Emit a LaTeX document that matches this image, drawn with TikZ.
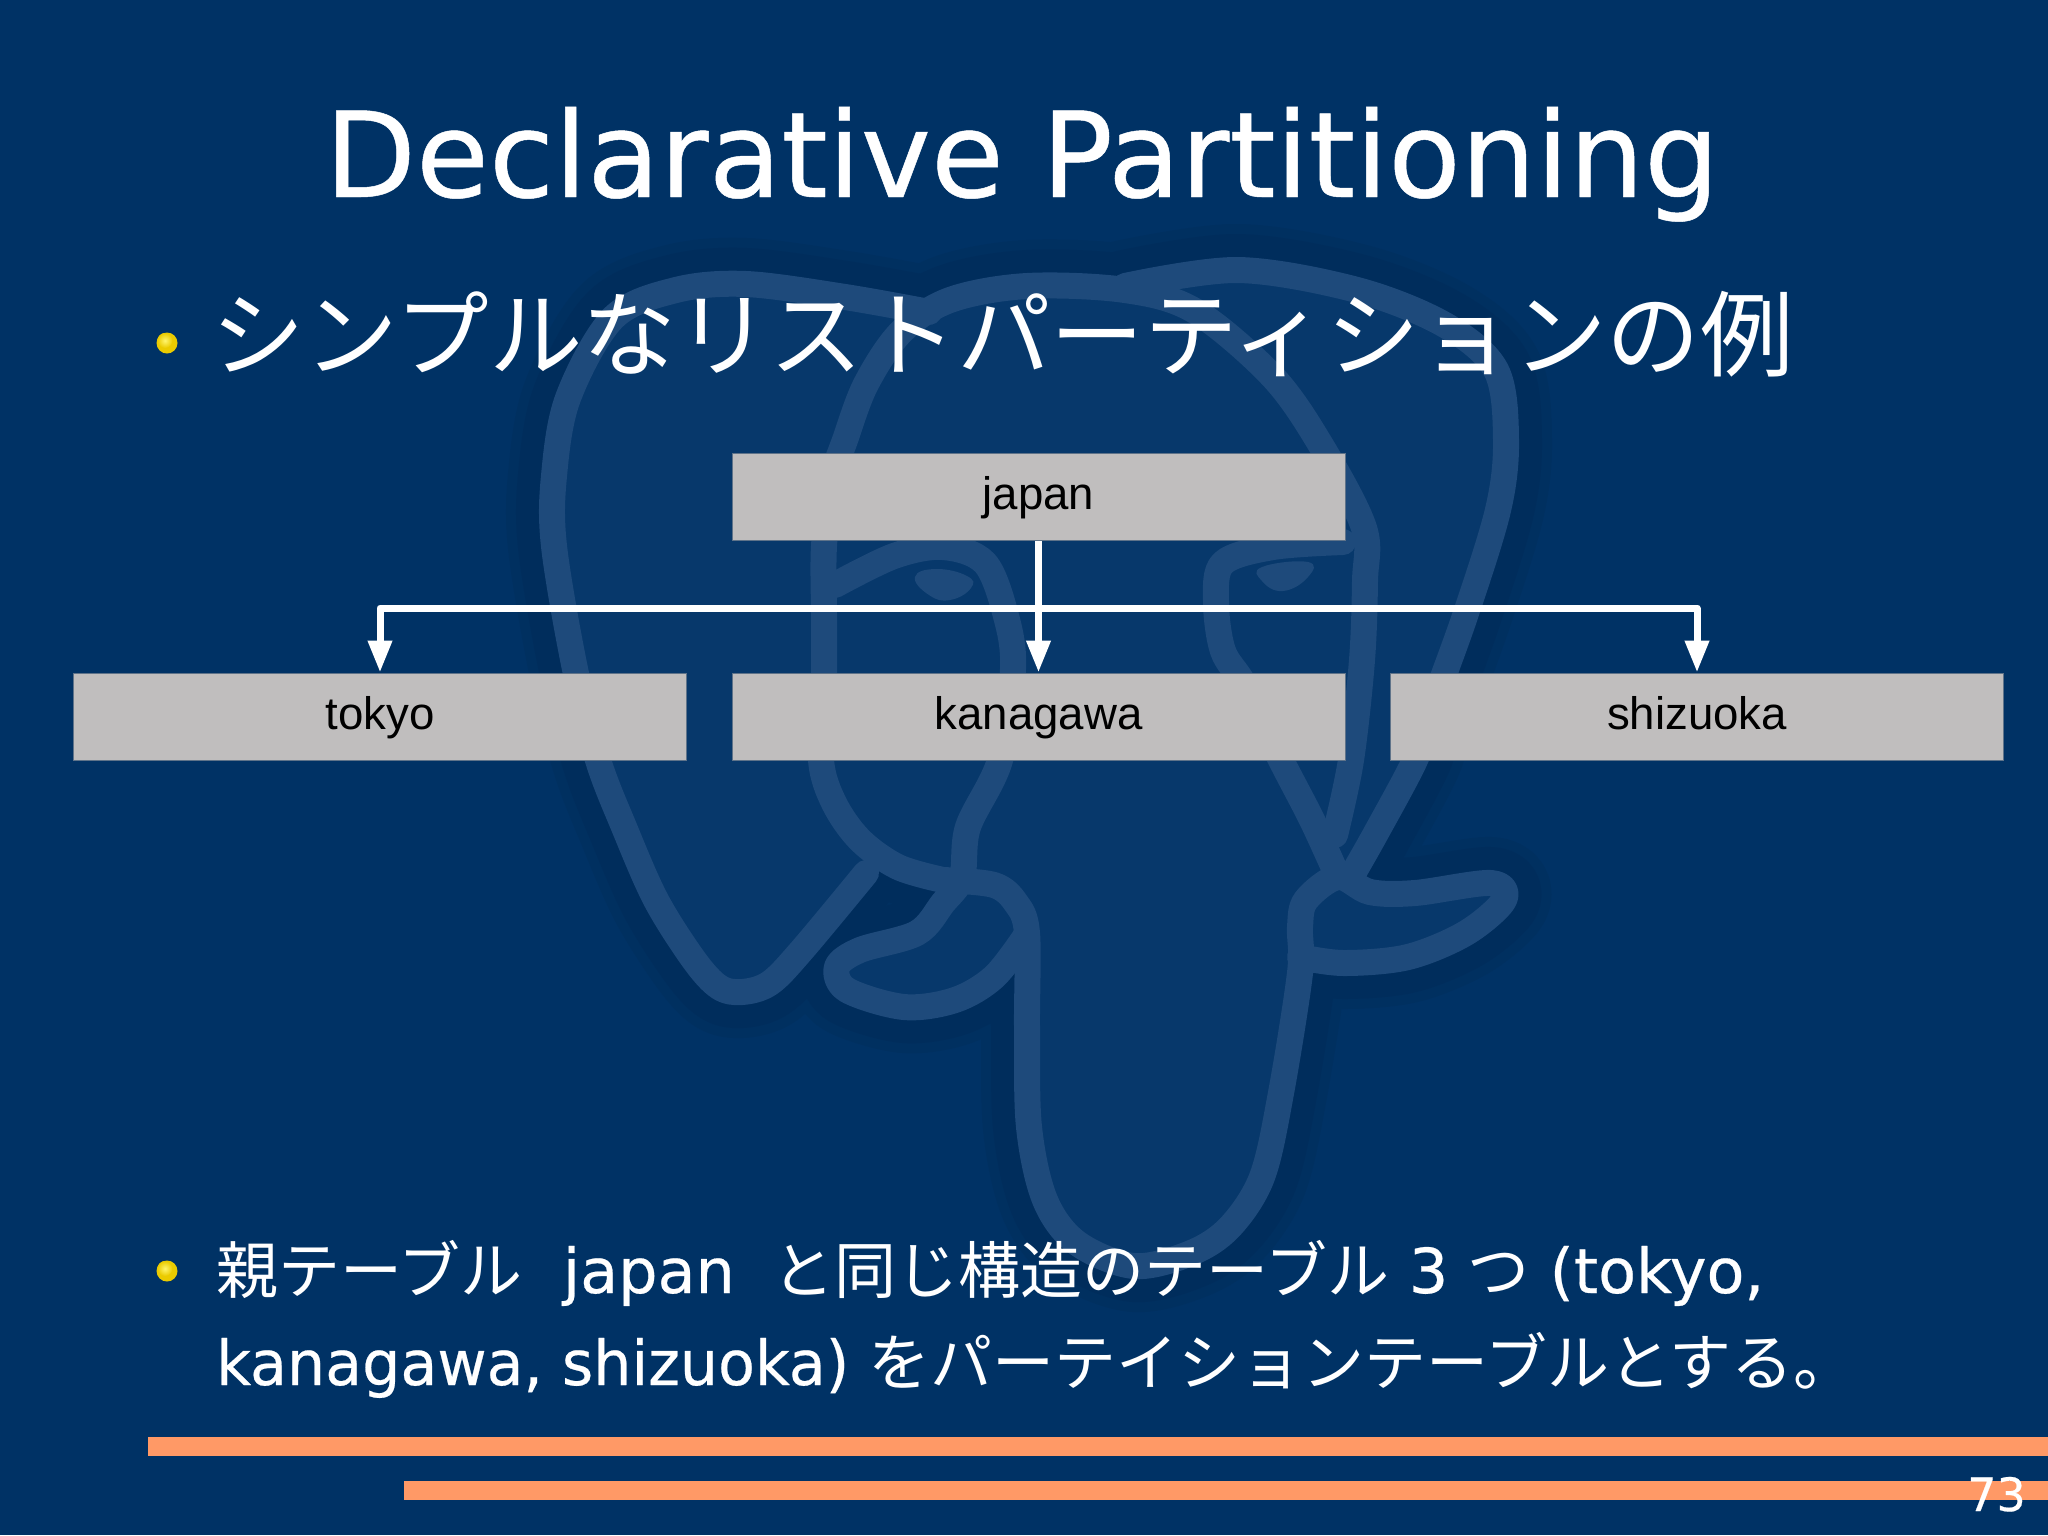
\documentclass[tikz,border=0pt]{standalone}
\usepackage{fontspec}
\setmainfont{DejaVu Sans}[FakeBold=0.4]
\newfontfamily\narrowlatin{DejaVu Sans}[FakeStretch=0.972,FakeBold=0.4]
\newfontfamily\cjk{Noto Sans CJK JP}
\newfontfamily\arialf{Liberation Sans}
\usetikzlibrary{arrows.meta}
\definecolor{bgblue}{HTML}{003265}
\definecolor{halo}{HTML}{002D5C}
\definecolor{haloedge}{HTML}{003060}
\definecolor{innerblue}{HTML}{07386B}
\definecolor{wmline}{HTML}{1E4A7B}
\definecolor{boxgray}{HTML}{C0BEBE}
\definecolor{boxedge}{HTML}{5F7389}
\definecolor{barorange}{HTML}{FF9966}
\definecolor{ballbase}{HTML}{EBCB00}
\definecolor{ballhigh}{HTML}{FFF56E}
\tikzset{
  boxnode/.style={draw=boxedge,line width=1pt,fill=boxgray,minimum width=613pt,minimum height=87pt,inner sep=0pt,text=black,text height=31pt,text depth=6pt,font=\arialf\fontsize{45.6}{45.6}\selectfont},
  link/.style={draw=white,line width=7pt,line join=round},
  tip/.style={-{Triangle[length=32pt,width=23pt,fill=white]}},
  bodytext/.style={anchor=base west,inner sep=0pt,text=white},
  bar/.style={fill=barorange,draw=none},
  outl/.style={line cap=round,line join=round},
}
\def\elephant#1{
  \draw[#1] plot[smooth,tension=.55] coordinates {(929,312)(845,297)(746,284)(676,290)(613,318)(568,398)(554,476)(554,546)(575,669)(598,760)(624,827)(656,900)(694,960)(719,987)(742,992)(770,983)(802,950)(866,873)};
  \draw[#1] plot[smooth,tension=.55] coordinates {(943,880)(898,867)(860,840)(834,803)(821,760)(824,686)(824,616)(824,546)(832,480)(845,440)(866,384)(901,332)(950,300)(1027,286)(1125,290)(1195,311)(1273,377)(1322,447)(1364,528)(1365,581)(1362,660)(1351,760)(1335,835)};
  \draw[#1] plot[smooth,tension=.55] coordinates {(1125,286)(1238,270)(1357,290)(1445,325)(1496,370)(1506,440)(1498,510)(1465,616)(1427,721)(1415,760)(1376,833)(1351,877)};
  \draw[#1] plot[smooth,tension=.55] coordinates {(835,585)(894,556)(943,547)(985,563)(1006,616)(1013,669)(1000,760)(968,827)(962,877)(943,903)(917,933)(860,950)(837,967)(847,990)(904,1007)(955,1000)(994,977)(1025,937)};
  \draw[#1] plot[smooth,tension=.55] coordinates {(1343,542)(1273,547)(1223,563)(1216,602)(1223,651)(1245,686)(1281,760)(1312,820)(1338,877)};
  \draw[#1] plot[smooth,tension=.55] coordinates {(943,880)(994,885)(1016,903)(1027,933)(1027,1027)(1029,1127)(1045,1200)(1077,1243)(1134,1266)(1191,1253)(1230,1227)(1262,1177)(1281,1093)(1300,973)(1300,927)(1306,900)(1338,877)(1370,892)(1415,893)(1491,883)(1504,900)(1466,933)(1408,957)(1344,963)(1300,957)};
}
\begin{document}
\begin{tikzpicture}[x=1pt,y=-1pt]
\useasboundingbox (0,0) rectangle (2048,1535);
\fill[bgblue] (0,0) rectangle (2048,1535);
% watermark
\elephant{outl,draw=haloedge,line width=92pt}
\elephant{outl,draw=halo,line width=72pt}
\fill[innerblue] (866,873)--(802,950)--(770,983)--(742,992)--(719,987)--(694,960)--(656,900)--(624,827)--(598,760)--(575,669)--(554,546)--(554,476)--(568,398)--(613,318)--(676,290)--(746,284)--(845,297)--(929,312)--(1027,286)--(1125,286)--(1238,270)--(1357,290)--(1445,325)--(1496,370)--(1506,440)--(1498,510)--(1465,616)--(1427,721)--(1415,760)--(1376,833)--(1351,877)--(1306,900)--(1300,973)--(1281,1093)--(1262,1177)--(1230,1227)--(1191,1253)--(1134,1266)--(1077,1243)--(1045,1200)--(1029,1127)--(1027,1027)--(1027,933)--(1016,903)--(994,885)--(943,880)--(898,867)--cycle;
\fill[innerblue] (962,877)--(917,933)--(860,950)--(837,967)--(847,990)--(904,1007)--(955,1000)--(994,977)--(1027,933)--(1016,903)--cycle;
\fill[innerblue] (1306,900)--(1338,877)--(1370,892)--(1415,893)--(1491,883)--(1504,900)--(1466,933)--(1408,957)--(1344,963)--(1300,957)--cycle;
\elephant{outl,draw=wmline,line width=26pt}
\fill[wmline] plot[smooth cycle,tension=.8] coordinates {(915,577)(936,569)(967,576)(971,588)(950,600)(929,595)};
\fill[wmline] plot[smooth cycle,tension=.8] coordinates {(1262,567)(1308,562)(1308,577)(1283,591)(1262,581)};
% title
\node[anchor=base,inner sep=0pt,text=white,font=\fontsize{118.6}{118.6}\selectfont] (title) at (1022,197) {Declarative Partitioning};
% bullets
\fill[ballbase] (167,343) circle (10.5pt);
\shade[inner color=ballhigh,outer color=ballbase] (165,340.5) circle (7.5pt);
\fill[ballbase] (167,1271) circle (10.5pt);
\shade[inner color=ballhigh,outer color=ballbase] (165,1268.5) circle (7.5pt);
\node[bodytext,font=\cjk\fontsize{93.6}{93.6}\selectfont] (sub) at (211,369) {シンプルなリストパーティションの例};
\node[bodytext,font=\fontsize{62}{62}\selectfont] (l1) at (216,1293) {{\cjk 親テーブル}\hspace{40.5pt}japan\hspace{38pt}{\cjk と同じ構造のテーブル} 3 {\cjk つ} (tokyo,};
\node[bodytext,font=\fontsize{62}{62}\selectfont] (l2) at (216,1385) {{\narrowlatin kanagawa, shizuoka)} {\cjk をパーテイションテーブルとする。}};
% boxes
\node[boxnode] (japan) at (1038.5,497) {japan};
\node[boxnode] (tokyo) at (380,716.5) {tokyo};
\node[boxnode] (kanagawa) at (1038.5,716.5) {kanagawa};
\node[boxnode] (shizuoka) at (1697,716.5) {shizuoka};
\coordinate (junction) at (1038.5,608);
\draw[link] (japan.south) -- (junction);
\draw[link,tip] (junction) -- (kanagawa.north);
\draw[link,tip] (junction) -| (tokyo.north);
\draw[link,tip] (junction) -| (shizuoka.north);
% bars
\fill[bar] (148,1437) rectangle (2048,1456);
\fill[bar] (404,1481) rectangle (2048,1500);
\node[anchor=base east,inner sep=0pt,text=white,font=\fontsize{46}{46}\selectfont] (page) at (2026,1511) {73};
\end{tikzpicture}
\end{document}
